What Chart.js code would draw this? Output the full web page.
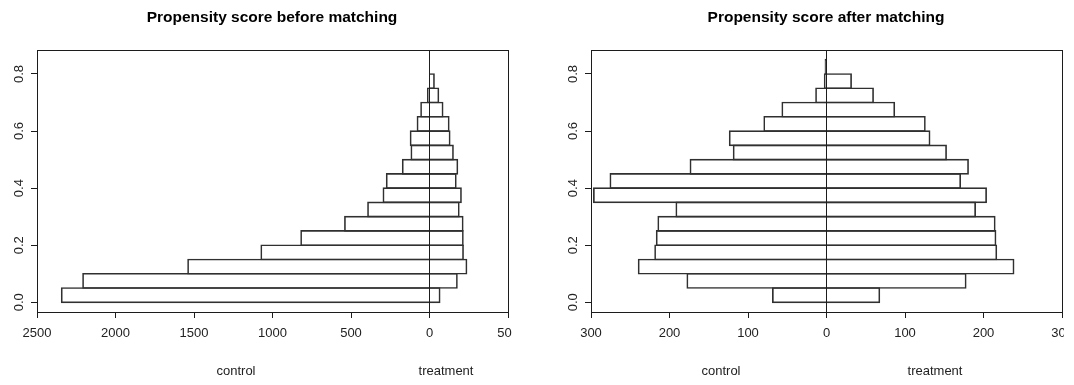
<!DOCTYPE html>
<html>
<head>
<meta charset="utf-8">
<script src="https://cdn.jsdelivr.net/npm/chart.js@4.4.1/dist/chart.umd.min.js"></script>
<style>
  html, body { margin: 0; padding: 0; background: #fff; width: 1074px; height: 385px; overflow: hidden; }
  .panel { position: absolute; top: 0; height: 385px; overflow: hidden; }
  .panel canvas { position: absolute; left: 0; top: 0; }
  .title { position: absolute; top: 8px; font: bold 15.5px "Liberation Sans", Arial, sans-serif; line-height: 18px;
           color: #000; transform: translateX(-50%); white-space: nowrap; }
  .xlab { position: absolute; top: 363px; font: 13px "Liberation Sans", Arial, sans-serif; line-height: 16px;
          color: #222; transform: translateX(-50%); white-space: nowrap; }
</style>
</head>
<body>
<div class="panel" style="left:0;width:512px"><canvas id="before" width="540" height="385"></canvas></div>
<div class="panel" style="left:540px;width:524px"><canvas id="after" width="560" height="385"></canvas></div>

<div class="title" style="left:272px">Propensity score before matching</div>
<div class="title" style="left:826px">Propensity score after matching</div>
<div class="xlab" style="left:236px">control</div>
<div class="xlab" style="left:446px">treatment</div>
<div class="xlab" style="left:721px">control</div>
<div class="xlab" style="left:935px">treatment</div>

<script>
// Histogram bins of width 0.05 on the propensity score, given by their midpoints
const binMids = [0.025, 0.075, 0.125, 0.175, 0.225, 0.275, 0.325, 0.375, 0.425,
                 0.475, 0.525, 0.575, 0.625, 0.675, 0.725, 0.775, 0.825];

// Counts per bin
const controlBefore = [2346, 2210, 1541, 1075, 821, 542, 395, 297, 276, 174, 119, 124, 80, 57, 14, 3, 2];
const controlAfter  = [69, 178, 240, 219, 217, 215, 192, 297, 276, 174, 119, 124, 80, 57, 14, 3, 2];
const treatment     = [68, 178, 239, 217, 216, 215, 190, 204, 171, 181, 153, 132, 126, 87, 60, 32, 0];

// Axis ticks (control counts run to the left, hence negative)
const yTicks       = [0, 0.2, 0.4, 0.6, 0.8];
const xTicksBefore = [-2500, -2000, -1500, -1000, -500, 0, 500];
const xTicksAfter  = [-300, -200, -100, 0, 100, 200, 300];

const Y_MIN = -0.034, Y_MAX = 0.884, BIN = 0.05;
const AREA_TOP = 50, AREA_BOTTOM = 312, X_AXIS_H = 40;
const INK = '#1c1c1c';
const BAR_INK = '#303030';
const FONT = { family: '"Liberation Sans", Arial, sans-serif', size: 13 };

function series(values, sign) {
  return values.map((v, i) => ({ x: sign * v, y: binMids[i] }));
}

// Closed box around the plotting region
const frame = {
  id: 'frame',
  afterDraw(chart) {
    const a = chart.chartArea, ctx = chart.ctx;
    ctx.save();
    ctx.strokeStyle = INK;
    ctx.lineWidth = 1;
    ctx.strokeRect(Math.round(a.left) + 0.5, Math.round(a.top) + 0.5,
                   Math.round(a.right - a.left), Math.round(a.bottom - a.top));
    ctx.restore();
  }
};

function backToBack(canvasId, control, xTicks, yAxisWidth, padRight) {
  // one extra pixel so neighbouring bins share a single outline row
  const barThickness = BIN * (AREA_BOTTOM - AREA_TOP) / (Y_MAX - Y_MIN) + 1;
  const ds = (label, data) => ({
    label, data,
    backgroundColor: 'rgba(0,0,0,0)',
    borderColor: BAR_INK,
    borderWidth: 1,
    borderSkipped: 'start',
    barThickness
  });
  return new Chart(document.getElementById(canvasId), {
    type: 'bar',
    data: { datasets: [ds('control', series(control, -1)), ds('treatment', series(treatment, 1))] },
    plugins: [frame],
    options: {
      indexAxis: 'y',
      responsive: false,
      animation: false,
      devicePixelRatio: 1,
      layout: { padding: { left: 0, right: padRight, top: AREA_TOP, bottom: 385 - AREA_BOTTOM - X_AXIS_H } },
      plugins: { legend: { display: false }, tooltip: { enabled: false }, title: { display: false } },
      scales: {
        x: {
          type: 'linear', stacked: true,
          min: xTicks[0], max: xTicks[xTicks.length - 1],
          afterBuildTicks: s => { s.ticks = xTicks.map(v => ({ value: v })); },
          afterFit: s => { s.height = X_AXIS_H; },
          grid: {
            drawOnChartArea: true,
            color: c => (c.tick && c.tick.value === 0) ? INK : 'rgba(0,0,0,0)',
            tickColor: INK, tickLength: 6, lineWidth: 1
          },
          border: { display: false },
          ticks: {
            autoSkip: false, maxRotation: 0, minRotation: 0, padding: 8,
            color: '#222', font: FONT,
            callback: v => String(Math.abs(v))
          }
        },
        y: {
          type: 'linear', stacked: true, offset: false,
          min: Y_MIN, max: Y_MAX,
          afterBuildTicks: s => { s.ticks = yTicks.map(v => ({ value: v })); },
          afterFit: s => { s.width = yAxisWidth; },
          grid: { offset: false, drawOnChartArea: false, tickColor: INK, tickLength: 6, lineWidth: 1 },
          border: { display: false },
          ticks: {
            minRotation: 90, maxRotation: 90, crossAlign: 'center', padding: 3,
            color: '#222', font: FONT,
            callback: v => Number(v).toFixed(1)
          }
        }
      }
    }
  });
}

backToBack('before', controlBefore, xTicksBefore, 37, 32);
backToBack('after', controlAfter, xTicksAfter, 51, 38);
</script>
</body>
</html>
